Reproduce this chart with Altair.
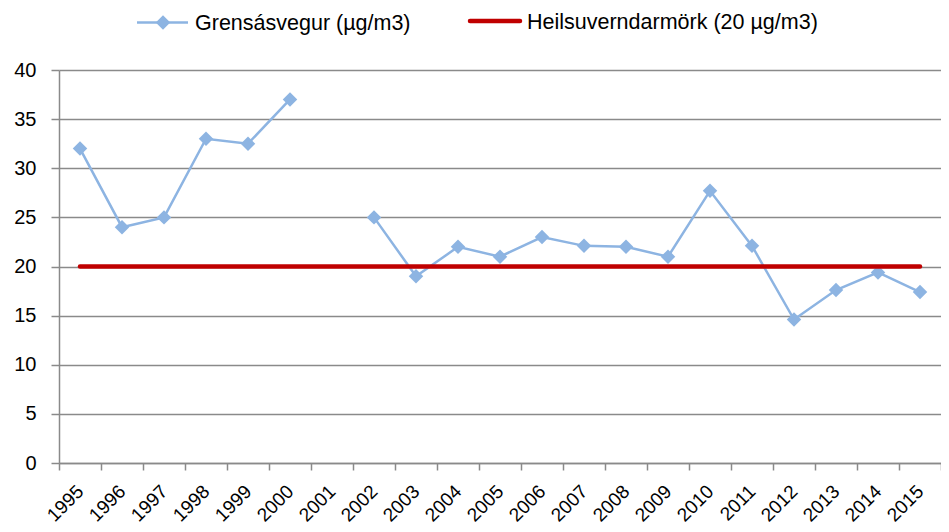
import altair as alt
import pandas as pd

years = [str(y) for y in range(1995, 2016)]
grensasvegur = [32, 24, 25, 33, 32.5, 37, None, 25, 19, 22, 21, 23, 22.1, 22, 21,
                27.7, 22.1, 14.6, 17.6, 19.4, 17.4]
limit_value = 20
series_names = ["Grensásvegur (µg/m3)", "Heilsuverndarmörk (20 µg/m3)"]
y_ticks = [0, 5, 10, 15, 20, 25, 30, 35, 40]

FONT = "Liberation Sans"
BLUE = "#8DB4E2"
RED = "#C00000"
GRID = "#8A8A8A"

# build table: split line at missing values
rows = []
seg = 0
for yr, v in zip(years, grensasvegur):
    if v is None:
        seg += 1
        continue
    rows.append({"year": yr, "value": v, "segment": seg})
df = pd.DataFrame(rows)
df_limit = pd.DataFrame({"year": years, "value": [limit_value] * len(years)})

xscale = alt.Scale(type="band", domain=years, paddingInner=0, paddingOuter=0)
yscale = alt.Scale(domain=[0, 40], nice=False)

x_axis = alt.Axis(title=None, labelAngle=-45, labelAlign="right", labelBaseline="middle",
                  tickBand="extent", tickSize=7, tickColor=GRID, domainColor=GRID,
                  tickWidth=1.5, domainWidth=1.5,
                  labelFont=FONT, labelFontSize=19, labelColor="#000", labelPadding=18,
                  grid=False)
y_axis = alt.Axis(title=None, values=y_ticks, grid=True, gridColor=GRID, gridWidth=1.5,
                  tickSize=8, tickColor=GRID, domainColor=GRID, tickWidth=1.5, domainWidth=1.5,
                  labelFont=FONT, labelFontSize=20, labelColor="#000", labelPadding=15)

base = alt.Chart(df).encode(
    x=alt.X("year:O", scale=xscale, axis=x_axis),
    y=alt.Y("value:Q", scale=yscale, axis=y_axis),
)
line = base.mark_line(color=BLUE, strokeWidth=2.5).encode(detail="segment:N")
pts = base.mark_point(shape="diamond", filled=True, size=210, color=BLUE, opacity=1)

limit_line = alt.Chart(df_limit).mark_line(color=RED, strokeWidth=4.5, strokeCap="round").encode(
    x=alt.X("year:O", scale=xscale, axis=x_axis),
    y=alt.Y("value:Q", scale=yscale, axis=y_axis),
)

# legend
one = pd.DataFrame({"a": [0]})
leg1_line = alt.Chart(one).mark_rule(color=BLUE, strokeWidth=2.5).encode(
    x=alt.value(78), x2=alt.value(129), y=alt.value(-47.5))
leg1_pt = alt.Chart(one).mark_point(shape="diamond", filled=True, size=210, color=BLUE, opacity=1).encode(
    x=alt.value(104), y=alt.value(-47.5))
leg1_txt = alt.Chart(one).mark_text(align="left", baseline="alphabetic", font=FONT, fontSize=21.5,
                                    color="#000").encode(
    x=alt.value(136), y=alt.value(-40.5), text=alt.value(series_names[0]))
leg2_line = alt.Chart(one).mark_rule(color=RED, strokeWidth=4.5, strokeCap="round").encode(
    x=alt.value(411), x2=alt.value(461), y=alt.value(-49))
leg2_txt = alt.Chart(one).mark_text(align="left", baseline="alphabetic", font=FONT, fontSize=21.5,
                                    color="#000").encode(
    x=alt.value(468), y=alt.value(-41.5), text=alt.value(series_names[1]))

chart = alt.layer(line, pts, limit_line, leg1_line, leg1_pt, leg1_txt, leg2_line, leg2_txt).properties(
    width=882, height=393,
    padding={"left": 51, "top": 62, "right": 0, "bottom": 61},
    autosize=alt.AutoSizeParams(type="none"),
).configure_view(stroke=None)

chart.save("out.html", embed_options={"renderer": "svg", "actions": False})
